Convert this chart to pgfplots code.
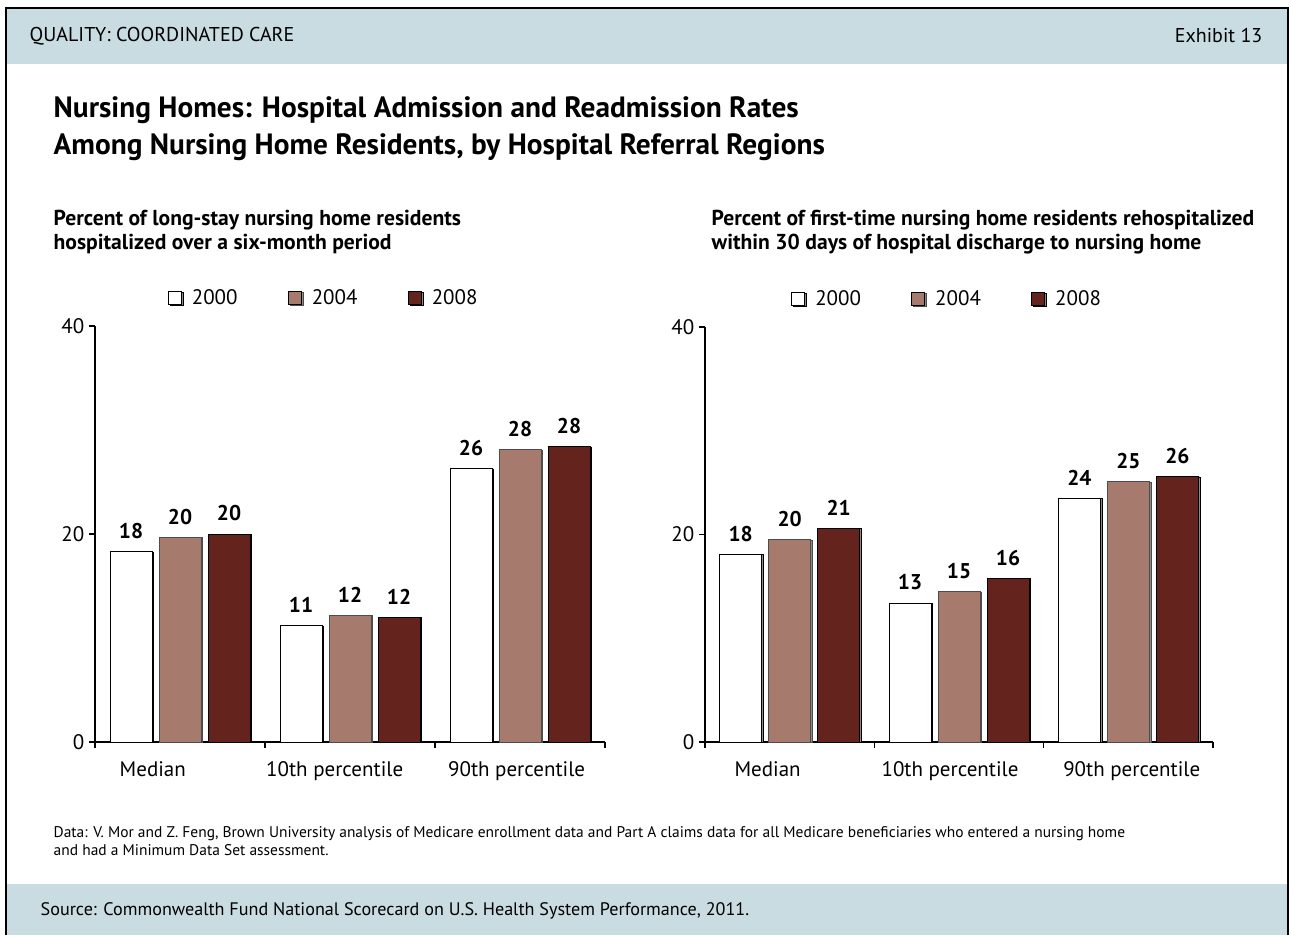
\documentclass[border=0pt]{standalone}
\usepackage{pgfplots}
\pgfplotsset{compat=1.18}
\usetikzlibrary{shadows}
\usepackage{fontspec}
\setmainfont{PT Sans}
\definecolor{hdr}{RGB}{201,220,226}
\definecolor{c04}{RGB}{166,123,110}
\definecolor{c08}{RGB}{100,35,28}
\pgfplotsset{nh/.style={
  scale only axis, anchor=south west,
  xmin=-0.5,xmax=2.5,ymin=0,ymax=40,
  axis lines=left, axis line style={-,line width=0.8pt},
  ybar=5.25pt, bar width=31.5pt,
  ytick={0,20,40},
  xtick={-0.5,0.5,1.5,2.5}, xticklabels={},
  extra x tick labels={Median,10th percentile,90th percentile},
  extra x tick style={major tick length=0pt, xticklabel style={yshift=-11.5pt}},
  tick align=outside,
  major tick length=4.5pt,
  tick style={black, line width=0.8pt},
  ticklabel style={font=\fontsize{15.75}{18}\selectfont},
  /pgf/number format/assume math mode=true,
  point meta=explicit symbolic,
  nodes near coords,
  every node near coord/.append style={font=\bfseries\fontsize{16}{18}\selectfont, yshift=6pt, black},
  legend columns=3,
  legend style={draw=none, fill=none, anchor=west, font=\fontsize{15.75}{18}\selectfont,
    /tikz/every even column/.append style={column sep=35.5pt},
    /tikz/every odd column/.append style={column sep=5.5pt}},
  legend image code/.code={\draw[#1,line width=0.9pt,draw=black] (0pt,-4.9pt) rectangle (9.75pt,4.9pt);},
  clip=false,
}}
\tikzset{bsh/.style={drop shadow={shadow xshift=1.2pt,shadow yshift=-0.3pt,fill=black!45,opacity=1}}}
\begin{document}
\begin{tikzpicture}[x=0.75pt,y=0.75pt]
\fill[white] (0,0) rectangle (1291,935);
\fill[hdr] (6,871) rectangle (1288,927);
\fill[hdr] (6,0) rectangle (1288,51);
\draw[black,line width=1.5pt] (6,0) -- (6,927) -- (1288,927) -- (1288,0);
\node[anchor=west,font=\fontsize{15}{17}\selectfont] at (25,899) {QUALITY: COORDINATED CARE};
\node[anchor=east,font=\fontsize{15}{17}\selectfont] at (1267,899) {Exhibit 13};
\node[anchor=west,font=\bfseries\fontsize{22}{25}\selectfont] at (49,825) {Nursing Homes: Hospital Admission and Readmission Rates};
\node[anchor=west,font=\bfseries\fontsize{22}{25}\selectfont] at (49,788) {Among Nursing Home Residents, by Hospital Referral Regions};
\node[anchor=west,font=\bfseries\fontsize{16.2}{18}\selectfont] at (49,715) {Percent of long-stay nursing home residents};
\node[anchor=west,font=\bfseries\fontsize{16.2}{18}\selectfont] at (49,691) {hospitalized over a six-month period};
\node[anchor=west,font=\bfseries\fontsize{16.2}{18}\selectfont] at (707,715) {Percent of first-time nursing home residents rehospitalized};
\node[anchor=west,font=\bfseries\fontsize{16.2}{18}\selectfont] at (707,691) {within 30 days of hospital discharge to nursing home};
\node[anchor=west,font=\fontsize{11.6}{13}\selectfont] at (49,101) {Data: V. Mor and Z. Feng, Brown University analysis of Medicare enrollment data and Part A claims data for all Medicare beneficiaries who entered a nursing home};
\node[anchor=west,font=\fontsize{11.6}{13}\selectfont] at (49,85) {and had a Minimum Data Set assessment.};
\node[anchor=west,font=\fontsize{13.6}{15}\selectfont] at (36,24) {Source: Commonwealth Fund National Scorecard on U.S. Health System Performance, 2011.};

\begin{axis}[nh, at={(71.25pt,144.75pt)}, width=382.5pt, height=312pt,
  extra x ticks={-0.16,0.91,1.98},
  legend style={at={(0.134,1.067)}}]
\addplot[fill=white,draw=black,bsh] coordinates {(0,18.3)[18] (1,11.2)[11] (2,26.3)[26]};
\addplot[fill=c04,draw=black!70,bsh] coordinates {(0,19.7)[20] (1,12.2)[12] (2,28.1)[28]};
\addplot[fill=c08,draw=black,bsh] coordinates {(0,20.0)[20] (1,12.0)[12] (2,28.4)[28]};
\legend{2000,2004,2008}
\end{axis}
\begin{axis}[nh, at={(528.75pt,144.75pt)}, width=381pt, height=311.25pt,
  extra x ticks={-0.13,0.947,2.02},
  legend style={at={(0.161,1.067)}}]
\addplot[fill=white,draw=black,bsh] coordinates {(0,18.1)[18] (1,13.4)[13] (2,23.5)[24]};
\addplot[fill=c04,draw=black!70,bsh] coordinates {(0,19.5)[20] (1,14.5)[15] (2,25.1)[25]};
\addplot[fill=c08,draw=black,bsh] coordinates {(0,20.6)[21] (1,15.8)[16] (2,25.6)[26]};
\legend{2000,2004,2008}
\end{axis}
\end{tikzpicture}
\end{document}
